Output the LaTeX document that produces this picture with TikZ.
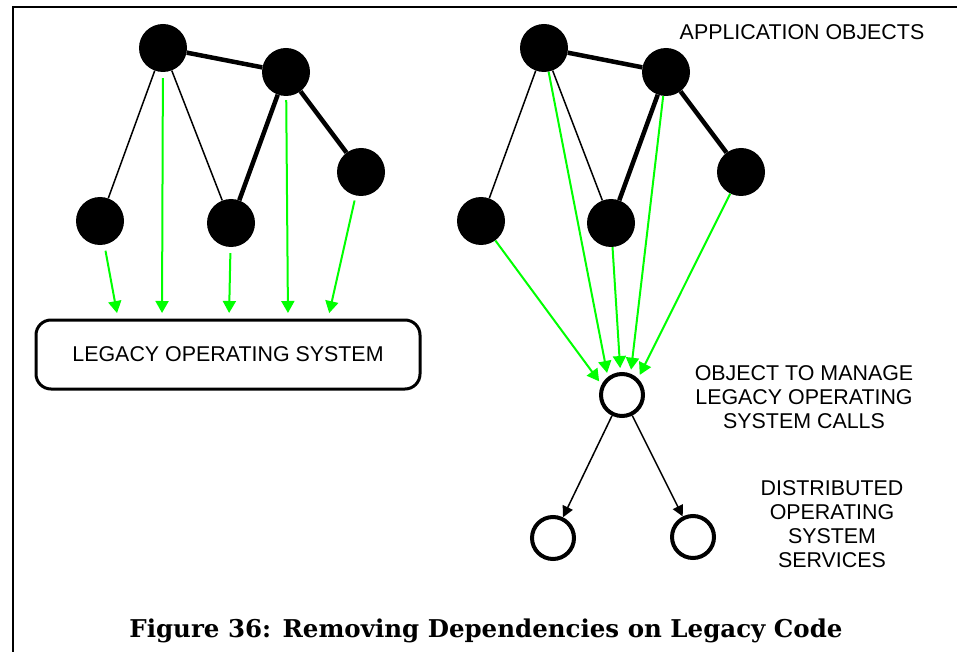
\documentclass[tikz,border=0pt]{standalone}
\usepackage{fontspec}
\usepackage{tikz}
\usetikzlibrary{arrows.meta}
\newfontfamily\labelfont{Liberation Sans}
\newfontfamily\capfont{DejaVu Serif}
\definecolor{callgreen}{RGB}{0,255,0}

\begin{document}
\begin{tikzpicture}[x=1pt, y=-1pt,
  obj/.style={circle, fill=black, minimum size=48pt, inner sep=0pt},
  svc/.style={circle, draw, line width=4pt, minimum size=42pt, inner sep=0pt},
  osbox/.style={rectangle, rounded corners=15pt, draw, line width=3pt, minimum width=384pt, minimum height=69pt, font=\labelfont\fontsize{21.4}{24}\selectfont},
  link/.style={line width=1.5pt},
  strong/.style={line width=4.5pt},
  call/.style={-{Triangle[length=12pt, width=13pt]}, callgreen, line width=2pt},
  dist/.style={-{Triangle[length=11pt, width=11pt]}, line width=1.5pt},
  note/.style={font=\labelfont\fontsize{21.4}{24}\selectfont, align=center}
]
  \useasboundingbox (0,0) rectangle (957,652);
  \draw[line width=2pt] (13,652) -- (13,7.5) -- (957,7.5);

  % left: objects calling the legacy OS directly
  \node[obj] (lA) at (163,48) {};
  \node[obj] (lB) at (286,72) {};
  \node[obj] (lC) at (361,172) {};
  \node[obj] (lD) at (100,221) {};
  \node[obj] (lE) at (231,223) {};
  \node[osbox] (legacy) at (228,354.5) {LEGACY OPERATING SYSTEM};

  \draw[strong] (lA) -- (lB);
  \draw[link] (lA) -- (lD);
  \draw[link] (lA) -- (lE);
  \draw[strong] (lB) -- (lE);
  \draw[strong] (lB) -- (lC);

  \draw[call, shorten <=6pt, shorten >=5.5pt] (lD) -- ([xshift=83.5pt]legacy.north west);
  \draw[call, shorten <=6pt, shorten >=5.5pt] (lA) -- ([xshift=127.5pt]legacy.north west);
  \draw[call, shorten <=6pt, shorten >=5.5pt] (lE) -- ([xshift=194.5pt]legacy.north west);
  \draw[call, shorten <=4pt, shorten >=5.5pt] (lB) -- ([xshift=253.5pt]legacy.north west);
  \draw[call, shorten <=5pt, shorten >=5.5pt] (lC) -- ([xshift=293.5pt]legacy.north west);

  % right: one object wraps the legacy calls
  \node[obj] (rA) at (544,48) {};
  \node[obj] (rB) at (666,72) {};
  \node[obj] (rC) at (741,172) {};
  \node[obj] (rD) at (481,221) {};
  \node[obj] (rE) at (611,223) {};
  \node[svc] (mgr) at (622,395) {};
  \node[svc] (svcl) at (553,538) {};
  \node[svc] (svcr) at (693,537) {};

  \draw[strong] (rA) -- (rB);
  \draw[link] (rA) -- (rD);
  \draw[link] (rA) -- (rE);
  \draw[strong] (rB) -- (rE);
  \draw[strong] (rB) -- (rC);

  \draw[call, shorten >=4pt] (rD) -- (mgr.153);
  \draw[call, shorten >=4pt] (rA) -- (mgr.128);
  \draw[call, shorten >=4pt] (rE) -- (mgr.94);
  \draw[call, shorten >=4pt] (rB) -- (mgr.68);
  \draw[call, shorten >=4pt] (rC) -- (mgr.46);

  \draw[dist] (mgr) -- (svcl);
  \draw[dist] (mgr) -- (svcr);

  % labels
  \node[note] (appl) at (802,32) {APPLICATION OBJECTS};
  \node[note] (mgrlbl) at (804,397) {OBJECT TO MANAGE\\LEGACY OPERATING\\SYSTEM CALLS};
  \node[note] (svclbl) at (832,524) {DISTRIBUTED\\OPERATING\\SYSTEM\\SERVICES};
  \node[anchor=base, font=\capfont\bfseries\fontsize{24.5}{28}\selectfont] (caption) at (486,637) {Figure 36: Removing Dependencies on Legacy Code};
\end{tikzpicture}
\end{document}
